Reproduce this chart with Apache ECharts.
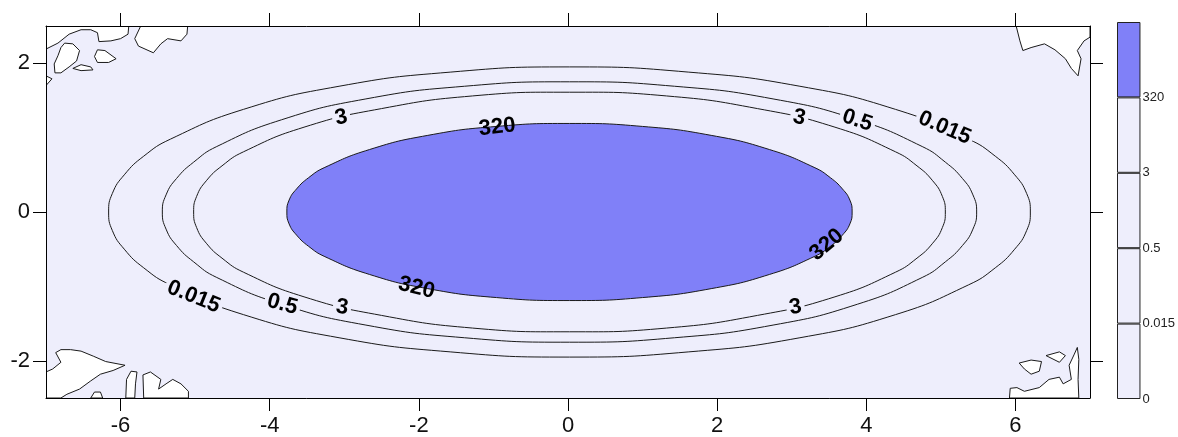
<!DOCTYPE html>
<html>
<head>
<meta charset="utf-8">
<script src="https://cdn.jsdelivr.net/npm/echarts/dist/echarts.min.js"></script>
<style>
html,body{margin:0;padding:0;background:#fff;}
#chart{width:1178px;height:437px;}
</style>
</head>
<body>
<div id="chart"></div>
<script>
// ---- data ----
const xTicks = [-6, -4, -2, 0, 2, 4, 6];
const yTicks = [-2, 0, 2];
const levelLabels = ['0', '0.015', '0.5', '3', '320'];

// contour polylines (closed), data coordinates
const contour320 = [[0.02,1.19],[-0.96,1.15],[-1.88,1.03],[-2.66,0.84],[-3.26,0.60],[-3.48,0.46],[-3.64,0.31],[-3.74,0.16],[-3.77,0],[-3.74,-0.16],[-3.64,-0.31],[-3.48,-0.46],[-3.26,-0.60],[-2.66,-0.84],[-1.88,-1.03],[-0.96,-1.15],[0.02,-1.19],[1.00,-1.15],[1.92,-1.03],[2.70,-0.84],[3.30,-0.60],[3.52,-0.46],[3.68,-0.31],[3.78,-0.16],[3.81,0],[3.78,0.16],[3.68,0.31],[3.52,0.46],[3.30,0.60],[2.70,0.84],[1.92,1.03],[1.00,1.15]];
const contour3 = [[0.02,1.61],[-1.28,1.56],[-2.50,1.39],[-3.54,1.14],[-4.35,0.81],[-4.64,0.62],[-4.85,0.42],[-4.98,0.21],[-5.02,0],[-4.98,-0.21],[-4.85,-0.42],[-4.64,-0.62],[-4.35,-0.81],[-3.54,-1.14],[-2.50,-1.39],[-1.28,-1.56],[0.02,-1.61],[1.32,-1.56],[2.54,-1.39],[3.58,-1.14],[4.39,-0.81],[4.68,-0.62],[4.89,-0.42],[5.02,-0.21],[5.06,0],[5.02,0.21],[4.89,0.42],[4.68,0.62],[4.39,0.81],[3.58,1.14],[2.54,1.39],[1.32,1.56]];
const contour05 = [[0.02,1.75],[-1.39,1.69],[-2.71,1.52],[-3.84,1.24],[-4.71,0.88],[-5.02,0.67],[-5.25,0.45],[-5.39,0.23],[-5.44,0],[-5.39,-0.23],[-5.25,-0.45],[-5.02,-0.67],[-4.71,-0.88],[-3.84,-1.24],[-2.71,-1.52],[-1.39,-1.69],[0.02,-1.75],[1.43,-1.69],[2.75,-1.52],[3.88,-1.24],[4.75,-0.88],[5.06,-0.67],[5.29,-0.45],[5.43,-0.23],[5.48,0],[5.43,0.23],[5.29,0.45],[5.06,0.67],[4.75,0.88],[3.88,1.24],[2.75,1.52],[1.43,1.69]];
const contour0015 = [[0.02,1.95],[-1.58,1.88],[-3.07,1.69],[-4.35,1.38],[-5.33,0.98],[-5.69,0.75],[-5.95,0.50],[-6.11,0.25],[-6.16,0],[-6.11,-0.25],[-5.95,-0.50],[-5.69,-0.75],[-5.33,-0.98],[-4.35,-1.38],[-3.07,-1.69],[-1.58,-1.88],[0.02,-1.95],[1.62,-1.88],[3.11,-1.69],[4.39,-1.38],[5.37,-0.98],[5.73,-0.75],[5.99,-0.50],[6.15,-0.25],[6.20,0],[6.15,0.25],[5.99,0.50],[5.73,0.75],[5.37,0.98],[4.39,1.38],[3.11,1.69],[1.62,1.88]];

// white (below 0) noisy regions in the corners
const blobTL1 = [[-7,2.5],[-7,2.19],[-6.84,2.27],[-6.69,2.39],[-6.53,2.45],[-6.40,2.45],[-6.31,2.41],[-6.29,2.29],[-6.13,2.30],[-6.00,2.33],[-5.90,2.39],[-5.89,2.5]];
const blobTL2 = [[-6.75,2.27],[-6.64,2.26],[-6.55,2.17],[-6.59,2.03],[-6.69,1.95],[-6.80,1.87],[-6.88,1.87],[-6.89,1.99],[-6.84,2.10],[-6.80,2.21]];
const blobTL3 = [[-6.31,2.18],[-6.21,2.17],[-6.06,2.06],[-6.16,2.01],[-6.31,2.01],[-6.35,2.09]];
const blobTL4 = [[-6.64,1.93],[-6.53,1.98],[-6.40,1.95],[-6.37,1.91],[-6.53,1.90]];
const blobTL5 = [[-7,1.83],[-6.92,1.79],[-7,1.70]];
const blobTL6 = [[-5.73,2.5],[-5.81,2.33],[-5.76,2.23],[-5.56,2.14],[-5.46,2.26],[-5.37,2.33],[-5.19,2.30],[-5.11,2.39],[-5.10,2.5]];
const blobTR1 = [[6.01,2.5],[6.06,2.30],[6.10,2.17],[6.21,2.21],[6.39,2.26],[6.53,2.18],[6.67,2.06],[6.75,1.93],[6.84,1.83],[6.88,2.06],[6.83,2.17],[6.92,2.30],[7,2.35],[7,2.5]];
const blobBL1 = [[-7,-2.15],[-6.91,-2.11],[-6.80,-2.02],[-6.87,-1.89],[-6.80,-1.85],[-6.67,-1.85],[-6.53,-1.87],[-6.36,-1.94],[-6.20,-2.01],[-5.94,-2.06],[-6.10,-2.13],[-6.27,-2.18],[-6.40,-2.27],[-6.55,-2.38],[-6.72,-2.45],[-6.80,-2.5],[-7,-2.5]];
const blobBL2 = [[-6.40,-2.5],[-6.35,-2.42],[-6.27,-2.42],[-6.24,-2.5]];
const blobBL3 = [[-5.93,-2.5],[-5.92,-2.25],[-5.86,-2.14],[-5.78,-2.15],[-5.80,-2.31],[-5.81,-2.5]];
const blobBL4 = [[-5.69,-2.5],[-5.70,-2.19],[-5.60,-2.15],[-5.46,-2.25],[-5.49,-2.38],[-5.39,-2.31],[-5.30,-2.25],[-5.19,-2.31],[-5.09,-2.41],[-5.09,-2.5]];
const blobBR1 = [[5.92,-2.5],[5.93,-2.37],[6.02,-2.36],[6.12,-2.41],[6.32,-2.36],[6.45,-2.25],[6.59,-2.22],[6.64,-2.31],[6.75,-2.25],[6.72,-2.06],[6.79,-1.91],[6.83,-1.82],[6.85,-1.98],[6.84,-2.25],[6.85,-2.5]];
const blobBR2 = [[6.41,-1.93],[6.59,-1.88],[6.67,-1.93],[6.59,-2.02]];
const blobBR3 = [[6.05,-2.03],[6.21,-1.99],[6.35,-2.01],[6.32,-2.14],[6.21,-2.18],[6.12,-2.11]];

// contour labels: text, position (data coords), angle (deg, ccw)
const contourLabels = [
  ['3', -3.04, 1.27, 12], ['320', -0.95, 1.14, 6], ['3', 3.10, 1.27, -12],
  ['0.5', 3.88, 1.23, -18], ['0.015', 5.05, 1.13, -23], ['320', 3.47, -0.44, 40],
  ['320', -2.03, -1.02, -14], ['0.015', -5.02, -1.14, -22], ['0.5', -3.83, -1.24, -15],
  ['3', -3.03, -1.28, -8], ['3', 3.05, -1.28, 10]
];

// ---- styles ----
const BLUE = '#8080F8', LAV = '#EEEEFC', LINE = '#1a1a1a';
const FONT = '"Liberation Sans", Arial, sans-serif';

const fills = [
  { pts: contour320, fill: BLUE, smooth: 0.5 },
  { pts: contour3, fill: null, smooth: 0.5 },
  { pts: contour05, fill: null, smooth: 0.5 },
  { pts: contour0015, fill: null, smooth: 0.5 },
  { pts: blobTL1, fill: '#fff', smooth: 0 }, { pts: blobTL2, fill: '#fff', smooth: 0 },
  { pts: blobTL3, fill: '#fff', smooth: 0 }, { pts: blobTL4, fill: '#fff', smooth: 0 },
  { pts: blobTL5, fill: '#fff', smooth: 0 }, { pts: blobTL6, fill: '#fff', smooth: 0 },
  { pts: blobTR1, fill: '#fff', smooth: 0 },
  { pts: blobBL1, fill: '#fff', smooth: 0 }, { pts: blobBL2, fill: '#fff', smooth: 0 },
  { pts: blobBL3, fill: '#fff', smooth: 0 }, { pts: blobBL4, fill: '#fff', smooth: 0 },
  { pts: blobBR1, fill: '#fff', smooth: 0 }, { pts: blobBR2, fill: '#fff', smooth: 0 },
  { pts: blobBR3, fill: '#fff', smooth: 0 }
];

const cbColors = [LAV, LAV, LAV, LAV, BLUE];

const chart = echarts.init(document.getElementById('chart'), null, { renderer: 'canvas' });

const axisCommon = {
  axisLine: { show: true, onZero: false, lineStyle: { color: '#000', width: 1 } },
  splitLine: { show: false },
  z: 10
};

const option = {
  animation: false,
  backgroundColor: '#fff',
  grid: [
    { left: 46, right: 88, top: 26, bottom: 39, show: true, backgroundColor: LAV, borderWidth: 0 },
    { left: 1117, width: 24, top: 22, bottom: 38 }
  ],
  xAxis: [
    Object.assign({}, axisCommon, {
      type: 'value', gridIndex: 0, min: -7, max: 7, position: 'bottom',
      axisTick: { show: true, length: 13, customValues: xTicks, lineStyle: { color: '#000' } },
      axisLabel: { customValues: xTicks, fontSize: 22, fontFamily: FONT, color: '#111', margin: 17 }
    }),
    Object.assign({}, axisCommon, {
      type: 'value', gridIndex: 0, min: -7, max: 7, position: 'top',
      axisTick: { show: true, length: 13, customValues: xTicks, lineStyle: { color: '#000' } },
      axisLabel: { show: false }
    }),
    { type: 'category', gridIndex: 1, data: ['cb'], show: false }
  ],
  yAxis: [
    Object.assign({}, axisCommon, {
      type: 'value', gridIndex: 0, min: -2.5, max: 2.5, position: 'left',
      axisTick: { show: true, length: 13, customValues: yTicks, lineStyle: { color: '#000' } },
      axisLabel: { customValues: yTicks, fontSize: 22, fontFamily: FONT, color: '#111', margin: 16 }
    }),
    Object.assign({}, axisCommon, {
      type: 'value', gridIndex: 0, min: -2.5, max: 2.5, position: 'right',
      axisTick: { show: true, length: 13, customValues: yTicks, lineStyle: { color: '#000' } },
      axisLabel: { show: false }
    }),
    {
      type: 'value', gridIndex: 1, min: 0, max: 5, interval: 1, position: 'right',
      axisLine: { show: false }, axisTick: { show: false }, splitLine: { show: false },
      axisLabel: {
        margin: 2, fontSize: 13, fontFamily: FONT, color: '#222',
        formatter: v => (levelLabels[v] !== undefined ? levelLabels[v] : '')
      }
    }
  ],
  series: [
    {
      type: 'custom', coordinateSystem: 'cartesian2d', xAxisIndex: 0, yAxisIndex: 0,
      clip: true, silent: true, z: 2,
      data: fills.map((f, i) => [0, 0, i]),
      renderItem: function (params, api) {
        const f = fills[params.dataIndex];
        const pts = f.pts.map(p => api.coord(p));
        return {
          type: 'polygon',
          shape: { points: pts, smooth: f.smooth },
          style: { fill: f.fill || 'none', stroke: LINE, lineWidth: 1 }
        };
      }
    },
    {
      type: 'custom', coordinateSystem: 'cartesian2d', xAxisIndex: 0, yAxisIndex: 0,
      clip: true, silent: true, z: 3,
      data: contourLabels.map(l => [l[1], l[2]]),
      renderItem: function (params, api) {
        const l = contourLabels[params.dataIndex];
        const p = api.coord([l[1], l[2]]);
        const is320 = l[0] === '320';
        return {
          type: 'text', x: p[0], y: p[1], rotation: l[3] * Math.PI / 180,
          style: {
            text: l[0], font: 'bold 22px ' + FONT, fill: '#000',
            align: 'center', verticalAlign: 'middle',
            backgroundColor: is320 ? null : LAV, padding: [0, 3]
          }
        };
      }
    }
  ].concat(cbColors.map((c, i) => ({
    type: 'bar', xAxisIndex: 2, yAxisIndex: 2, stack: 'cb', barWidth: '100%',
    data: [1], silent: true,
    itemStyle: { color: c, borderColor: '#222', borderWidth: 1 }
  })))
};

chart.setOption(option);
</script>
</body>
</html>
